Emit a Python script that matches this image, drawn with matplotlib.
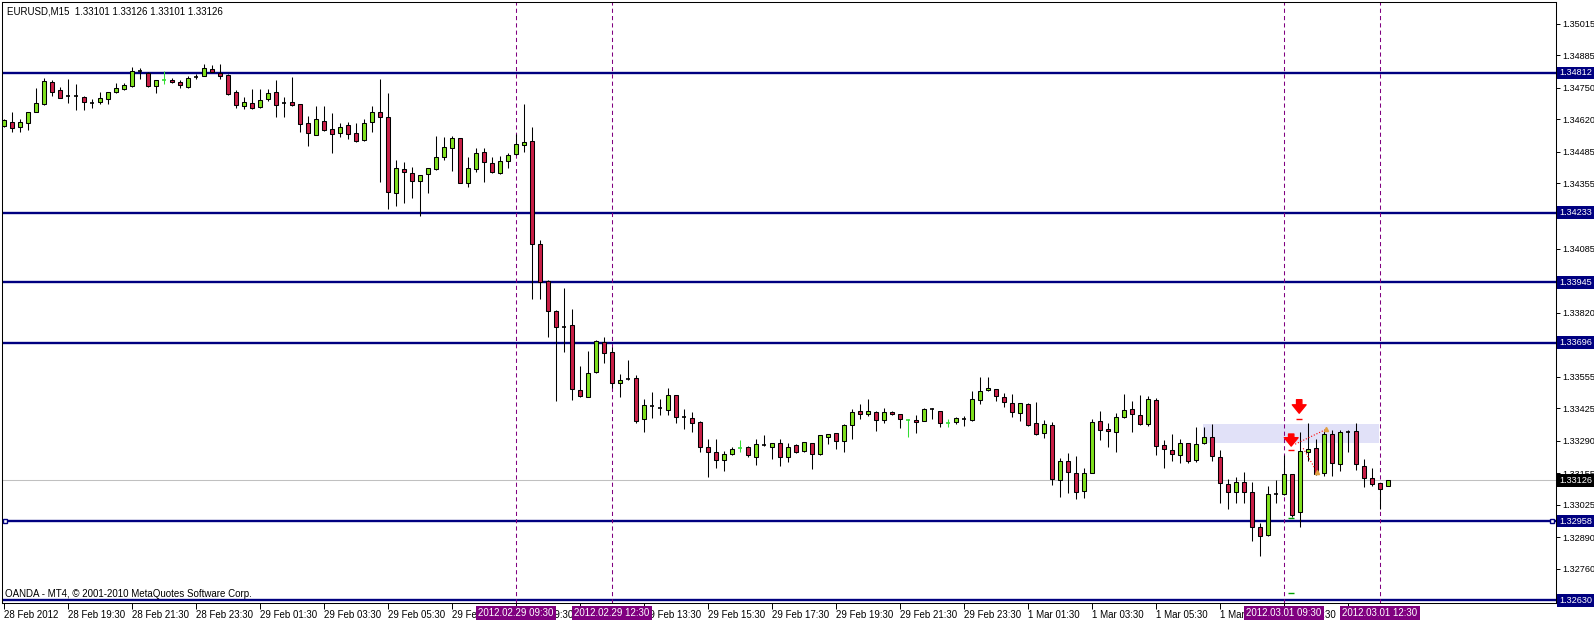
"""EURUSD M15 candle chart, MT4 style"""
import matplotlib
matplotlib.use('Agg')
import matplotlib.pyplot as plt
from matplotlib.patches import Rectangle

plt.rcParams['font.family'] = ['Liberation Sans', 'DejaVu Sans']

# --- data (bar index 0 = 28 Feb 17:30, 15 min bars) ---
opens = [
    1.34592, 1.34610, 1.34587, 1.34603, 1.34651, 1.34682, 1.34773, 1.34741, 1.34716, 1.34717,
    1.34713, 1.34688, 1.34690, 1.34702, 1.34731, 1.34746, 1.34756, 1.34819, 1.34812, 1.34756,
    1.34782, 1.34782, 1.34775, 1.34754, 1.34796, 1.34799, 1.34826, 1.34812, 1.34802, 1.34731,
    1.34676, 1.34686, 1.34669, 1.34702, 1.34731, 1.34686, 1.34690, 1.34682, 1.34603, 1.34556,
    1.34614, 1.34578, 1.34562, 1.34595, 1.34562, 1.34533, 1.34607, 1.34649, 1.34628, 1.34314,
    1.34413, 1.34396, 1.34363, 1.34392, 1.34413, 1.34465, 1.34500, 1.34541, 1.34355, 1.34414,
    1.34483, 1.34438, 1.34396, 1.34446, 1.34475, 1.34512, 1.34530, 1.34103, 1.33952, 1.33828,
    1.33762, 1.33768, 1.33500, 1.33472, 1.33573, 1.33697, 1.33656, 1.33528, 1.33544, 1.33548,
    1.33379, 1.33435, 1.33427, 1.33418, 1.33478, 1.33390, 1.33383, 1.33368, 1.33263, 1.33242,
    1.33209, 1.33234, 1.33259, 1.33263, 1.33224, 1.33272, 1.33266, 1.33280, 1.33224, 1.33271,
    1.33249, 1.33280, 1.33236, 1.33307, 1.33321, 1.33290, 1.33356, 1.33413, 1.33402, 1.33409,
    1.33375, 1.33409, 1.33400, 1.33376, 1.33376, 1.33372, 1.33420, 1.33413, 1.33365, 1.33366,
    1.33379, 1.33376, 1.33457, 1.33499, 1.33503, 1.33472, 1.33445, 1.33404, 1.33441, 1.33362,
    1.33321, 1.33354, 1.33128, 1.33208, 1.33155, 1.33082, 1.33158, 1.33372, 1.33339, 1.33325,
    1.33387, 1.33420, 1.33395, 1.33358, 1.33457, 1.33271, 1.33252, 1.33230, 1.33280, 1.33209,
    1.33280, 1.33307, 1.33222, 1.33110, 1.33078, 1.33121, 1.33077, 1.32933, 1.32900, 1.33069,
    1.33069, 1.33151, 1.32994, 1.33242, 1.33259, 1.33155, 1.33318, 1.33194, 1.33328, 1.33330,
    1.33187, 1.33135, 1.33114, 1.33101,
]
highs = [
    1.34621, 1.34649, 1.34620, 1.34650, 1.34748, 1.34792, 1.34782, 1.34754, 1.34786, 1.34764,
    1.34716, 1.34704, 1.34731, 1.34733, 1.34768, 1.34771, 1.34837, 1.34831, 1.34814, 1.34783,
    1.34819, 1.34792, 1.34782, 1.34799, 1.34806, 1.34847, 1.34844, 1.34847, 1.34806, 1.34741,
    1.34711, 1.34745, 1.34744, 1.34744, 1.34782, 1.34711, 1.34793, 1.34684, 1.34633, 1.34675,
    1.34675, 1.34644, 1.34603, 1.34610, 1.34603, 1.34620, 1.34675, 1.34786, 1.34727, 1.34451,
    1.34443, 1.34421, 1.34390, 1.34419, 1.34552, 1.34545, 1.34550, 1.34543, 1.34462, 1.34500,
    1.34501, 1.34465, 1.34469, 1.34479, 1.34558, 1.34683, 1.34589, 1.34120, 1.33954, 1.33830,
    1.33921, 1.33835, 1.33599, 1.33661, 1.33707, 1.33720, 1.33679, 1.33566, 1.33624, 1.33562,
    1.33461, 1.33490, 1.33461, 1.33507, 1.33480, 1.33420, 1.33409, 1.33370, 1.33297, 1.33297,
    1.33248, 1.33266, 1.33293, 1.33268, 1.33297, 1.33313, 1.33282, 1.33297, 1.33280, 1.33275,
    1.33286, 1.33282, 1.33315, 1.33319, 1.33323, 1.33358, 1.33420, 1.33441, 1.33461, 1.33413,
    1.33424, 1.33414, 1.33402, 1.33381, 1.33395, 1.33427, 1.33424, 1.33415, 1.33381, 1.33388,
    1.33392, 1.33496, 1.33554, 1.33554, 1.33505, 1.33486, 1.33483, 1.33447, 1.33445, 1.33450,
    1.33376, 1.33368, 1.33218, 1.33238, 1.33227, 1.33176, 1.33381, 1.33413, 1.33362, 1.33404,
    1.33483, 1.33455, 1.33479, 1.33475, 1.33466, 1.33293, 1.33318, 1.33297, 1.33282, 1.33347,
    1.33348, 1.33359, 1.33252, 1.33132, 1.33139, 1.33160, 1.33121, 1.32951, 1.33103, 1.33128,
    1.33230, 1.33153, 1.33325, 1.33362, 1.33296, 1.33335, 1.33335, 1.33335, 1.33335, 1.33362,
    1.33215, 1.33179, 1.33116, 1.33126,
]
lows = [
    1.34588, 1.34566, 1.34568, 1.34575, 1.34649, 1.34679, 1.34717, 1.34706, 1.34686, 1.34658,
    1.34658, 1.34665, 1.34682, 1.34684, 1.34729, 1.34740, 1.34754, 1.34786, 1.34754, 1.34727,
    1.34764, 1.34768, 1.34748, 1.34748, 1.34785, 1.34797, 1.34814, 1.34785, 1.34720, 1.34665,
    1.34661, 1.34663, 1.34667, 1.34697, 1.34630, 1.34628, 1.34675, 1.34568, 1.34510, 1.34553,
    1.34572, 1.34481, 1.34545, 1.34537, 1.34527, 1.34531, 1.34568, 1.34361, 1.34247, 1.34262,
    1.34275, 1.34295, 1.34220, 1.34314, 1.34411, 1.34451, 1.34407, 1.34355, 1.34338, 1.34400,
    1.34359, 1.34398, 1.34394, 1.34417, 1.34473, 1.34486, 1.33876, 1.33876, 1.33720, 1.33455,
    1.33658, 1.33459, 1.33471, 1.33470, 1.33571, 1.33613, 1.33507, 1.33470, 1.33542, 1.33362,
    1.33328, 1.33385, 1.33395, 1.33395, 1.33365, 1.33340, 1.33328, 1.33245, 1.33139, 1.33176,
    1.33165, 1.33232, 1.33245, 1.33222, 1.33188, 1.33268, 1.33216, 1.33186, 1.33202, 1.33241,
    1.33243, 1.33172, 1.33230, 1.33277, 1.33257, 1.33245, 1.33296, 1.33381, 1.33394, 1.33332,
    1.33362, 1.33395, 1.33344, 1.33307, 1.33321, 1.33370, 1.33381, 1.33346, 1.33348, 1.33358,
    1.33352, 1.33370, 1.33441, 1.33497, 1.33455, 1.33431, 1.33390, 1.33373, 1.33352, 1.33315,
    1.33303, 1.33107, 1.33056, 1.33075, 1.33048, 1.33052, 1.33155, 1.33293, 1.33263, 1.33245,
    1.33383, 1.33328, 1.33356, 1.33351, 1.33231, 1.33176, 1.33206, 1.33197, 1.33197, 1.33203,
    1.33278, 1.33208, 1.33031, 1.33006, 1.33031, 1.33031, 1.32877, 1.32815, 1.32896, 1.33034,
    1.33067, 1.32976, 1.32932, 1.33206, 1.33149, 1.33146, 1.33144, 1.33166, 1.33245, 1.33169,
    1.33098, 1.33103, 1.33009, 1.33101,
]
closes = [
    1.34617, 1.34582, 1.34607, 1.34649, 1.34686, 1.34778, 1.34734, 1.34709, 1.34716, 1.34717,
    1.34690, 1.34688, 1.34706, 1.34731, 1.34748, 1.34760, 1.34819, 1.34819, 1.34756, 1.34781,
    1.34782, 1.34773, 1.34760, 1.34789, 1.34796, 1.34831, 1.34816, 1.34797, 1.34725, 1.34679,
    1.34691, 1.34665, 1.34699, 1.34727, 1.34677, 1.34686, 1.34677, 1.34599, 1.34562, 1.34620,
    1.34574, 1.34558, 1.34589, 1.34558, 1.34529, 1.34603, 1.34649, 1.34628, 1.34318, 1.34417,
    1.34400, 1.34366, 1.34388, 1.34417, 1.34465, 1.34504, 1.34541, 1.34357, 1.34417, 1.34479,
    1.34443, 1.34400, 1.34447, 1.34471, 1.34516, 1.34525, 1.34103, 1.33948, 1.33828, 1.33759,
    1.33762, 1.33504, 1.33476, 1.33569, 1.33703, 1.33654, 1.33528, 1.33541, 1.33544, 1.33373,
    1.33437, 1.33435, 1.33427, 1.33478, 1.33387, 1.33390, 1.33362, 1.33263, 1.33242, 1.33210,
    1.33234, 1.33256, 1.33259, 1.33230, 1.33275, 1.33272, 1.33280, 1.33222, 1.33266, 1.33245,
    1.33284, 1.33234, 1.33313, 1.33317, 1.33290, 1.33354, 1.33408, 1.33402, 1.33413, 1.33375,
    1.33409, 1.33400, 1.33379, 1.33376, 1.33366, 1.33420, 1.33420, 1.33362, 1.33365, 1.33383,
    1.33379, 1.33461, 1.33496, 1.33507, 1.33475, 1.33449, 1.33408, 1.33445, 1.33355, 1.33317,
    1.33358, 1.33131, 1.33208, 1.33160, 1.33077, 1.33155, 1.33366, 1.33335, 1.33330, 1.33390,
    1.33416, 1.33400, 1.33358, 1.33461, 1.33270, 1.33255, 1.33234, 1.33280, 1.33205, 1.33275,
    1.33307, 1.33227, 1.33114, 1.33079, 1.33119, 1.33079, 1.32935, 1.32897, 1.33069, 1.33069,
    1.33151, 1.32983, 1.33248, 1.33256, 1.33151, 1.33318, 1.33197, 1.33325, 1.33328, 1.33193,
    1.33135, 1.33110, 1.33092, 1.33126,
]
green_doji = [20, 92, 113, 118]

level_prices = [1.34812, 1.34233, 1.33945, 1.33696, 1.32958, 1.32630]
last_price = 1.33126

price_ticks = [1.35015, 1.34885, 1.34750, 1.34620, 1.34485, 1.34355, 1.34085,
               1.33820, 1.33555, 1.33425, 1.33290, 1.33155, 1.33025, 1.32890, 1.32760]

time_tick_bars = list(range(0, 169, 8))
time_tick_labels = ['28 Feb 2012', '28 Feb 19:30', '28 Feb 21:30', '28 Feb 23:30',
                    '29 Feb 01:30', '29 Feb 03:30', '29 Feb 05:30', '29 Feb 07:30',
                    '29 Feb 09:30', '29 Feb 11:30', '29 Feb 13:30', '29 Feb 15:30',
                    '29 Feb 17:30', '29 Feb 19:30', '29 Feb 21:30', '29 Feb 23:30',
                    '1 Mar 01:30', '1 Mar 03:30', '1 Mar 05:30', '1 Mar 07:30',
                    '1 Mar 09:30', '1 Mar 11:30']

vline_bars = [64, 76, 160, 172]
vline_labels = ['2012.02.29 09:30', '2012.02.29 12:30', '2012.03.01 09:30', '2012.03.01 12:30']

zone_bars = (149.9, 171.9)
zone_prices = (1.33281, 1.33359)

arrow_bars = [161.9, 160.9]
arrow_tails = [1.33460, 1.33318]
arrow_tips = [1.33404, 1.33268]
red_dash_bars = [161.9, 160.9]
red_dash_prices = [1.33380, 1.33251]
green_dash_bars = [160.9, 160.9]
green_dash_prices = [1.32972, 1.32662]
dotted_a = ([161.4, 165.3], [1.33276, 1.33338])
dotted_b = ([162.4, 164.1], [1.33259, 1.33162])

NAVY = '#000080'
PURPLE = '#800080'
BULL = '#7FE01E'
BEAR = '#C81E46'

fig = plt.figure(figsize=(15.94, 6.21), dpi=100)
fig.patch.set_facecolor('white')
ax = fig.add_axes([2 / 1594, 18 / 621, 1554 / 1594, 601 / 621])
ax.set_xlim(-0.25, 194)
ax.set_ylim(1.32619, 1.35105)

# shaded zone
ax.add_patch(Rectangle((zone_bars[0], zone_prices[0]), zone_bars[1] - zone_bars[0],
                       zone_prices[1] - zone_prices[0], facecolor='#E1E1F8',
                       edgecolor='none', zorder=0.2))

ax.axhline(last_price, color='#C0C0C0', lw=0.75, zorder=0.5)
for p in level_prices:
    ax.axhline(p, color=NAVY, lw=1.7, zorder=1)
for b in vline_bars:
    ax.axvline(b, color=PURPLE, lw=0.75, ls=(0, (4, 3)), zorder=1.2)

# candles
w = 0.56
for i in range(len(opens)):
    o, h, l, c = opens[i], highs[i], lows[i], closes[i]
    wick_col = '#33DD33' if i in green_doji else 'black'
    ax.vlines(i, l, h, color=wick_col, lw=0.75, zorder=2)
    if o == c:
        ax.hlines(o, i - w / 2, i + w / 2, color=wick_col, lw=1.2, zorder=3)
    else:
        ax.add_patch(Rectangle((i - w / 2, min(o, c)), w, abs(c - o),
                               facecolor=BULL if c > o else BEAR,
                               edgecolor='black', lw=0.75, zorder=3))

# trade marks
for b, t0, t1 in zip(arrow_bars, arrow_tails, arrow_tips):
    ax.annotate('', xy=(b, t1), xytext=(b, t0),
                arrowprops=dict(arrowstyle='simple,head_width=0.9,head_length=0.55,tail_width=0.35',
                                color='red', mutation_scale=11, shrinkA=0, shrinkB=0), zorder=5)
for b, p in zip(red_dash_bars, red_dash_prices):
    ax.hlines(p, b - 0.35, b + 0.35, color='red', lw=1, zorder=5)
for b, p in zip(green_dash_bars, green_dash_prices):
    ax.hlines(p, b - 0.35, b + 0.35, color='#00A000', lw=1, zorder=5)
ax.plot(*dotted_a, color='red', lw=0.8, ls=':', zorder=4)
ax.plot(*dotted_b, color='red', lw=0.8, ls=':', zorder=4)
ax.plot(dotted_a[0][1], dotted_a[1][1], marker='^', ms=3, color='#E0A040', zorder=4)
ax.plot(dotted_b[0][1], dotted_b[1][1], marker='^', ms=3, color='#E0A040', zorder=4)

# selected line handles
ax.plot([0.125, 193.5], [level_prices[4]] * 2, ls='none', marker='s', ms=3.5,
        mfc='white', mec=NAVY, mew=1, zorder=6, clip_on=False)

# axes styling
for s in ax.spines.values():
    s.set_color('black')
    s.set_linewidth(0.75)
ax.yaxis.tick_right()
ax.set_yticks(price_ticks)
ax.set_yticklabels(['%.5f' % p for p in price_ticks])
ax.tick_params(axis='y', length=3, width=0.7, pad=1.5, labelsize=6.6, colors='black')
ax.set_xticks(time_tick_bars)
ax.set_xticklabels(time_tick_labels)
for lab in ax.get_xticklabels():
    lab.set_ha('left')
ax.tick_params(axis='x', length=4, width=0.7, pad=1, labelsize=7, colors='black')

# highlighted price labels
for p in level_prices:
    ax.annotate('%.5f' % p, xy=(1, p), xycoords=('axes fraction', 'data'),
                xytext=(3, 0), textcoords='offset pixels', ha='left', va='center',
                fontsize=6.6, color='white', annotation_clip=False, zorder=10,
                bbox=dict(boxstyle='square,pad=0.2', fc=NAVY, ec='none'))
ax.annotate('%.5f' % last_price, xy=(1, last_price), xycoords=('axes fraction', 'data'),
            xytext=(3, 0), textcoords='offset pixels', ha='left', va='center',
            fontsize=6.6, color='white', annotation_clip=False, zorder=10,
            bbox=dict(boxstyle='square,pad=0.2', fc='black', ec='none'))

# highlighted time labels
for b, t in zip(vline_bars, vline_labels):
    ax.annotate(t, xy=(b, 0), xycoords=('data', 'axes fraction'),
                xytext=(0, -10), textcoords='offset pixels', ha='center', va='center',
                fontsize=7, color='white', annotation_clip=False, zorder=10,
                bbox=dict(boxstyle='square,pad=0.25', fc=PURPLE, ec='none'))

ax.text(0.0032, 0.985, 'EURUSD,M15  1.33101 1.33126 1.33101 1.33126',
        transform=ax.transAxes, fontsize=7, va='center', ha='left', zorder=10)
ax.text(0.002, 0.015, 'OANDA - MT4, \u00a9 2001-2010 MetaQuotes Software Corp.',
        transform=ax.transAxes, fontsize=7, va='center', ha='left', zorder=10)

fig.savefig('out.png', dpi=100)
